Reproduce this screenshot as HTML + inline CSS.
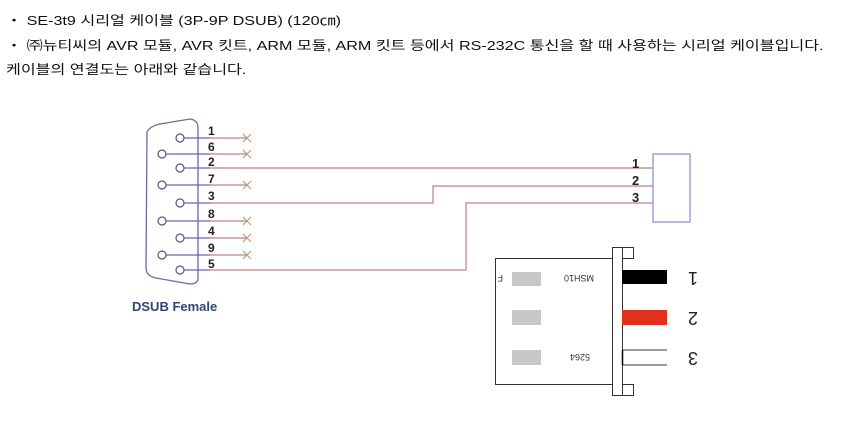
<!DOCTYPE html>
<html><head><meta charset="utf-8"><style>
body{margin:0;width:855px;height:430px;background:#fff;overflow:hidden;font-family:"Liberation Sans","Noto Sans CJK KR",sans-serif;}
.t{position:absolute;left:6px;font-size:13px;color:#111;white-space:nowrap;transform:scaleX(1.24);transform-origin:0 0;}
</style></head><body>
<div class="t" style="top:10px">・ SE-3t9 시리얼 케이블 (3P-9P DSUB) (120㎝)</div>
<div class="t" style="top:35px">・ ㈜뉴티씨의 AVR 모듈, AVR 킷트, ARM 모듈, ARM 킷트 등에서 RS-232C 통신을 할 때 사용하는 시리얼 케이블입니다.</div>
<div class="t" style="top:59px">케이블의 연결도는 아래와 같습니다.</div>
<svg width="855" height="430" style="position:absolute;left:0;top:0" font-family="Liberation Sans, sans-serif">
<path d="M147,132 Q150,126 160,124 L190,119 Q198,120 198,128 L198,278 Q198,284 190,284 L156,278 Q146,276 146,268 Z" fill="none" stroke="#6a6aaa" stroke-width="1.3"/>
<g stroke-width="1.2" fill="none">
<g stroke="#6666bb">
<line x1="184" y1="138" x2="210" y2="138"/><line x1="166" y1="154" x2="210" y2="154"/>
<line x1="184" y1="168" x2="210" y2="168"/><line x1="166" y1="185" x2="210" y2="185"/>
<line x1="184" y1="203" x2="210" y2="203"/><line x1="166" y1="221" x2="210" y2="221"/>
<line x1="184" y1="238" x2="210" y2="238"/><line x1="166" y1="255" x2="210" y2="255"/>
<line x1="184" y1="270" x2="210" y2="270"/>
</g>
<g stroke="#c08080">
<line x1="210" y1="138" x2="247" y2="138"/><line x1="210" y1="154" x2="247" y2="154"/>
<line x1="210" y1="185" x2="247" y2="185"/><line x1="210" y1="221" x2="247" y2="221"/>
<line x1="210" y1="238" x2="247" y2="238"/><line x1="210" y1="255" x2="247" y2="255"/>
<polyline points="210,168 655,168"/>
<polyline points="210,203 433,203 433,186 655,186"/>
<polyline points="210,270 466,270 466,203 655,203"/>
</g>
<g stroke="#555577">
<circle cx="180" cy="138" r="4"/><circle cx="162" cy="154" r="4"/><circle cx="180" cy="168" r="4"/>
<circle cx="162" cy="185" r="4"/><circle cx="180" cy="203" r="4"/><circle cx="162" cy="221" r="4"/>
<circle cx="180" cy="238" r="4"/><circle cx="162" cy="255" r="4"/><circle cx="180" cy="270" r="4"/>
</g>
<g stroke="#b0a080">
<path d="M243,134l8,8M251,134l-8,8"/><path d="M243,150l8,8M251,150l-8,8"/>
<path d="M243,181l8,8M251,181l-8,8"/><path d="M243,217l8,8M251,217l-8,8"/>
<path d="M243,234l8,8M251,234l-8,8"/><path d="M243,251l8,8M251,251l-8,8"/>
</g>
</g>
<g font-size="12" font-weight="bold" fill="#222">
<text x="208" y="135">1</text><text x="208" y="151">6</text><text x="208" y="166">2</text>
<text x="208" y="183">7</text><text x="208" y="200">3</text><text x="208" y="218">8</text>
<text x="208" y="235">4</text><text x="208" y="252">9</text><text x="208" y="268">5</text>
</g>
<text x="132" y="311" font-size="13" font-weight="bold" fill="#334477">DSUB Female</text>
<rect x="653" y="154" width="37" height="68" fill="#fff" stroke="#8888cc" stroke-width="1.2"/>
<g font-size="13" font-weight="bold" fill="#222"><text x="632" y="168">1</text><text x="632" y="185">2</text><text x="632" y="202">3</text></g>
<g stroke="#333" stroke-width="1" fill="#fff">
<rect x="495.5" y="258.5" width="117" height="126"/>
<rect x="612.5" y="247.5" width="10" height="148"/>
<rect x="622.5" y="247.5" width="11" height="11"/>
<rect x="622.5" y="384.5" width="11" height="11"/>
</g>
<rect x="622" y="270" width="45" height="14" fill="#000"/>
<rect x="622" y="310" width="45" height="15" fill="#e23020"/>
<line x1="622" y1="350" x2="667" y2="350" stroke="#333"/><line x1="622" y1="365" x2="667" y2="365" stroke="#333"/>
<line x1="622.5" y1="350" x2="622.5" y2="365" stroke="#000" stroke-width="1.5"/>
<g fill="#c8c8c8"><rect x="512" y="272" width="29" height="14"/><rect x="512" y="310" width="29" height="15"/><rect x="512" y="350" width="29" height="15"/></g>
<g font-size="9" fill="#333">
<text transform="translate(594,275) rotate(180)">MSH10</text>
<text transform="translate(503,275) rotate(180)">F</text>
<text transform="translate(590,354) rotate(180)">5264</text>
</g>
<g font-size="18" fill="#222">
<text transform="translate(698,272) rotate(180)">1</text>
<text transform="translate(698,312) rotate(180)">2</text>
<text transform="translate(698,352) rotate(180)">3</text>
</g>
</svg>
</body></html>
